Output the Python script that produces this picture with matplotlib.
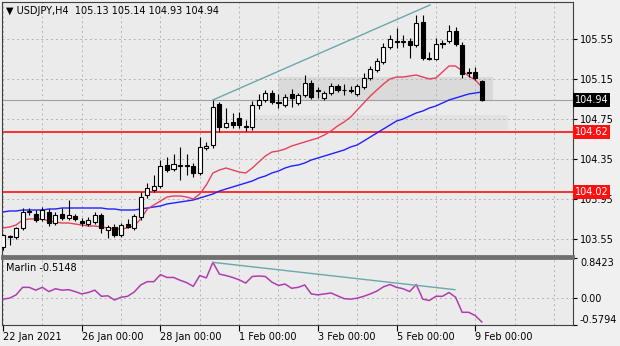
import numpy as np
import matplotlib
matplotlib.use("Agg")
import matplotlib.pyplot as plt
from matplotlib.patches import Rectangle

# USDJPY H4 свечи (по порядку баров)
opens = [103.47, 103.58, 103.57, 103.66, 103.82, 103.80, 103.75, 103.82, 103.71, 103.80,
         103.76, 103.78, 103.73, 103.70, 103.72, 103.79, 103.64, 103.67, 103.59, 103.70,
         103.66, 103.77, 103.99, 104.04, 104.08, 104.29, 104.25, 104.28, 104.29, 104.28,
         104.21, 104.46, 104.49, 104.90, 104.67, 104.72, 104.76, 104.68, 104.67, 104.89,
         104.94, 105.01, 104.92, 104.89, 105.00, 104.91, 104.99, 105.11, 105.04, 104.96,
         105.01, 105.08, 105.04, 105.04, 105.00, 105.07, 105.16, 105.24, 105.32, 105.47,
         105.53, 105.52, 105.53, 105.49, 105.72, 105.36, 105.35, 105.51, 105.53, 105.63,
         105.49, 105.22, 105.22, 105.13]
highs = [103.60, 103.59, 103.67, 103.86, 103.86, 103.84, 103.87, 103.85, 103.82, 103.86,
         103.94, 103.80, 103.76, 103.77, 103.82, 103.81, 103.69, 103.70, 103.71, 103.75,
         103.80, 104.02, 104.11, 104.19, 104.34, 104.37, 104.40, 104.47, 104.40, 104.31,
         104.57, 104.52, 104.94, 104.92, 104.86, 104.81, 104.82, 104.74, 104.93, 105.00,
         105.04, 105.04, 105.00, 105.00, 105.05, 105.01, 105.19, 105.14, 105.07, 105.03,
         105.11, 105.10, 105.10, 105.08, 105.10, 105.21, 105.28, 105.36, 105.51, 105.59,
         105.66, 105.59, 105.56, 105.79, 105.79, 105.42, 105.56, 105.54, 105.69, 105.67,
         105.52, 105.26, 105.27, 105.14]
lows = [103.44, 103.49, 103.55, 103.64, 103.79, 103.72, 103.73, 103.68, 103.69, 103.74,
        103.74, 103.73, 103.68, 103.68, 103.70, 103.61, 103.56, 103.57, 103.57, 103.66,
        103.64, 103.74, 103.96, 104.02, 104.06, 104.22, 104.23, 104.14, 104.19, 104.17,
        104.19, 104.44, 104.46, 104.62, 104.66, 104.66, 104.66, 104.63, 104.64, 104.85,
        104.92, 104.90, 104.86, 104.87, 104.87, 104.89, 104.97, 104.95, 104.96, 104.94,
        104.99, 105.02, 104.99, 105.01, 104.98, 105.05, 105.14, 105.22, 105.30, 105.45,
        105.46, 105.47, 105.36, 105.47, 105.34, 105.34, 105.34, 105.46, 105.51, 105.48,
        105.16, 105.17, 105.14, 104.93]
closes = [103.59, 103.57, 103.66, 103.82, 103.83, 103.74, 103.84, 103.71, 103.79, 103.76,
          103.79, 103.75, 103.71, 103.74, 103.79, 103.66, 103.67, 103.59, 103.69, 103.67,
          103.78, 103.97, 104.06, 104.08, 104.28, 104.24, 104.30, 104.29, 104.28, 104.21,
          104.47, 104.48, 104.87, 104.67, 104.71, 104.69, 104.69, 104.67, 104.89, 104.94,
          105.01, 104.92, 104.91, 104.97, 104.96, 104.99, 105.11, 104.97, 105.03, 105.01,
          105.08, 105.04, 105.04, 105.03, 105.08, 105.16, 105.25, 105.33, 105.47, 105.55,
          105.52, 105.53, 105.49, 105.71, 105.36, 105.35, 105.50, 105.50, 105.63, 105.50,
          105.20, 105.21, 105.16, 104.94]

# скользящие средние
ma_fast = [103.66, 103.67, 103.69, 103.74, 103.75, 103.75, 103.75, 103.73, 103.72, 103.71,
           103.71, 103.70, 103.69, 103.68, 103.68, 103.67, 103.66, 103.65, 103.65, 103.66,
           103.68, 103.75, 103.85, 103.89, 103.93, 103.97, 103.98, 103.98, 103.97, 103.95,
           104.00, 104.09, 104.21, 104.24, 104.26, 104.24, 104.22, 104.21, 104.26, 104.32,
           104.38, 104.42, 104.43, 104.45, 104.48, 104.50, 104.52, 104.54, 104.56, 104.59,
           104.63, 104.68, 104.72, 104.77, 104.84, 104.91, 104.98, 105.04, 105.10, 105.15,
           105.17, 105.17, 105.18, 105.19, 105.17, 105.15, 105.16, 105.22, 105.28, 105.28,
           105.23, 105.18, 105.14, 105.07]
ma_slow = [103.82, 103.83, 103.83, 103.84, 103.84, 103.84, 103.84, 103.85, 103.85, 103.86,
           103.86, 103.86, 103.86, 103.86, 103.86, 103.86, 103.85, 103.85, 103.84, 103.84,
           103.84, 103.85, 103.86, 103.87, 103.88, 103.90, 103.91, 103.92, 103.93, 103.94,
           103.96, 103.98, 104.00, 104.03, 104.05, 104.07, 104.09, 104.11, 104.13, 104.16,
           104.18, 104.21, 104.23, 104.26, 104.28, 104.29, 104.31, 104.34, 104.36, 104.38,
           104.40, 104.42, 104.44, 104.47, 104.49, 104.53, 104.57, 104.61, 104.65, 104.69,
           104.73, 104.75, 104.78, 104.81, 104.83, 104.86, 104.88, 104.91, 104.94, 104.96,
           104.98, 105.00, 105.01, 105.02]

# индикатор Marlin
marlin = [-0.03, -0.01, 0.06, 0.22, 0.22, 0.16, 0.22, 0.13, 0.19, 0.16,
          0.17, 0.13, 0.08, 0.11, 0.16, 0.03, 0.04, -0.05, 0.01, 0.03,
          0.12, 0.27, 0.34, 0.34, 0.49, 0.43, 0.43, 0.37, 0.32, 0.24,
          0.47, 0.42, 0.75, 0.50, 0.47, 0.43, 0.38, 0.31, 0.45, 0.46,
          0.45, 0.33, 0.26, 0.29, 0.20, 0.22, 0.27, 0.08, 0.06, 0.08,
          0.10, 0.04, -0.02, -0.03, -0.01, 0.03, 0.08, 0.14, 0.23, 0.28,
          0.22, 0.19, 0.13, 0.28, -0.03, -0.06, 0.03, 0.03, 0.11, 0.01,
          -0.31, -0.31, -0.38, -0.5148]
marlin_min, marlin_max = -0.5794, 0.8423

# подписи дат
date_idx = [0, 12, 24, 36, 48, 60, 72]
date_labels = ["22 Jan 2021", "26 Jan 00:00", "28 Jan 00:00", "1 Feb 00:00",
               "3 Feb 00:00", "5 Feb 00:00", "9 Feb 00:00"]
price_ticks = [103.55, 103.95, 104.35, 104.75, 105.15, 105.55]

# уровни и объекты на графике
levels = [104.62, 104.02]
bid = 104.94
zones = [(41.9, 74.7, 104.94, 105.17, "#dadada"),
         (37.7, 77.0, 104.64, 104.79, "#e2e2e2")]
trend_price = ([32, 65.1], [104.94, 105.89])
trend_marlin = ([32, 68.9], [0.75, 0.17])

FS = 7
plt.rcParams['font.family'] = ['DejaVu Sans']
fig = plt.figure(figsize=(6.2, 3.46), dpi=100, facecolor="#f0f0f0")
W, H = 620, 346
ax = fig.add_axes([2 / W, 1 - 256 / H, 571 / W, 254 / H], facecolor="#ebebeb")
ax2 = fig.add_axes([2 / W, 1 - 325 / H, 571 / W, 67 / H], facecolor="#ebebeb")

x = np.arange(len(closes))
xmin, xmax = -0.15, 86.9
grid_kw = dict(color="#b4b4b4", linestyle=(0, (2, 3)), linewidth=0.7)

# зоны
for x0, x1, p0, p1, col in zones:
    ax.add_patch(Rectangle((x0, p0), x1 - x0, p1 - p0, facecolor=col,
                           edgecolor="none", zorder=0.5))

ax.axhline(bid, color="#a0a0a0", lw=0.8, zorder=1)
for lv in levels:
    ax.axhline(lv, color="#ff2020", lw=1.3, zorder=2)

ax.plot(x, ma_slow, color="#2020ff", lw=1, zorder=2.5)
ax.plot(x, ma_fast, color="#e8405c", lw=1, zorder=2.5)

# свечи
o = np.array(opens); c = np.array(closes)
ax.vlines(x, lows, highs, color="black", lw=0.8, zorder=3)
body_col = ["white" if cc >= oo else "black" for oo, cc in zip(o, c)]
ax.bar(x, np.abs(c - o), bottom=np.minimum(o, c), width=0.62,
       color=body_col, edgecolor="black", linewidth=0.8, zorder=4)

ax.plot(*trend_price, color="#6aa8aa", lw=1, zorder=5)

ax.set_xlim(xmin, xmax)
ax.set_ylim(105.55 - 217 / 100, 105.55 + 37 / 100)
ax.set_xticks([])
ax.set_xticks(range(0, 87, 6), minor=True)
ax.tick_params(axis="x", which="minor", length=0)
ax.grid(True, which="minor", axis="x", **grid_kw)
ax.yaxis.tick_right()
ax.set_yticks(price_ticks, [f"{p:.2f}" for p in price_ticks])
ax.tick_params(axis="y", length=3, pad=2, labelsize=FS, colors="black")
ax.grid(True, which="major", axis="y", **grid_kw)

ytr = ax.get_yaxis_transform()
ax.text(1.003, bid, "104.94", transform=ytr, color="white", fontsize=FS,
        va="center", ha="left", zorder=10,
        bbox=dict(boxstyle="square,pad=0.2", fc="black", ec="none"))
for lv in levels:
    ax.text(1.003, lv, f"{lv:.2f}", transform=ytr, color="white", fontsize=FS,
            va="center", ha="left", zorder=10,
            bbox=dict(boxstyle="square,pad=0.2", fc="#ff1010", ec="none"))

ax.text(4 / 571, 0.965, "\u25bc USDJPY,H4  105.13 105.14 104.93 104.94",
        transform=ax.transAxes, fontsize=FS, va="center", ha="left")

# нижнее окно
ax2.plot(x, marlin, color="#b03cb0", lw=1.1, zorder=3)
ax2.plot(*trend_marlin, color="#6aa8aa", lw=1, zorder=4)
ax2.set_xlim(xmin, xmax)
ax2.set_ylim(marlin_min, marlin_max)
ax2.set_xticks(date_idx, date_labels)
ax2.set_xticks(range(0, 87, 6), minor=True)
ax2.tick_params(axis="x", which="major", length=4, pad=1, labelsize=FS)
ax2.tick_params(axis="x", which="minor", length=0)
for lab in ax2.get_xticklabels():
    lab.set_ha("left")
ax2.grid(True, which="both", axis="x", **grid_kw)
ax2.yaxis.tick_right()
ax2.set_yticks([marlin_min, 0, marlin_max], [f"{marlin_min:.4f}", "0.00", f"{marlin_max:.4f}"])
ax2.tick_params(axis="y", length=3, pad=2, labelsize=FS)
ylabs = ax2.get_yticklabels()
ylabs[0].set_va("bottom")
ylabs[-1].set_va("top")
ax2.axhline(0, **grid_kw)
ax2.text(4 / 571, 0.85, f"Marlin {marlin[-1]:.4f}", transform=ax2.transAxes,
         fontsize=FS, va="center", ha="left")

for a in (ax, ax2):
    for s in a.spines.values():
        s.set_color("#404040")
        s.set_linewidth(0.8)
ax.spines["bottom"].set_color("#707070")
ax.spines["bottom"].set_linewidth(2)
ax2.spines["top"].set_color("#707070")
ax2.spines["top"].set_linewidth(2)

fig.savefig("out.png", dpi=100, facecolor=fig.get_facecolor())
